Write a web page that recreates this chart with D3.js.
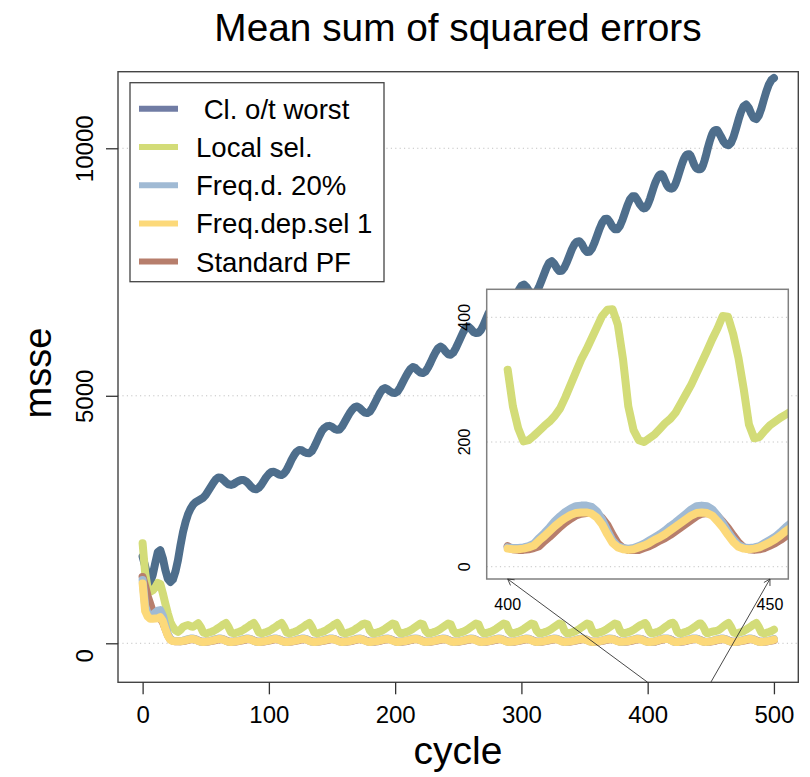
<!DOCTYPE html>
<html>
<head>
<meta charset="utf-8">
<script src="https://cdn.jsdelivr.net/npm/d3@7"></script>
<style>
  html, body { margin: 0; padding: 0; background: #fff; }
  svg { display: block; font-family: "Liberation Sans", Arial, Helvetica, sans-serif; }
</style>
</head>
<body>
<svg id="chart" width="810" height="777"></svg>
<script>
// Sampling grid of the recorded cycles: every 2nd cycle, every cycle across the zoomed window 396-456.
const cycles = d3.range(0, 396, 2).concat(d3.range(396, 457), d3.range(458, 501, 2));

// Mean sum of squared errors per method
const worst = [
  1750, 1560, 1350, 1230, 1380, 1620, 1840, 1880, 1720, 1480,
  1300, 1240, 1290, 1450, 1680, 1980, 2250, 2450, 2610, 2720,
  2800, 2850, 2880, 2910, 2940, 3000, 3080, 3160, 3240, 3310,
  3350, 3345, 3300, 3250, 3210, 3200, 3215, 3250, 3280, 3300,
  3298, 3270, 3220, 3160, 3120, 3110, 3140, 3200, 3280, 3360,
  3420, 3460, 3465, 3440, 3410, 3400, 3430, 3500, 3600, 3710,
  3800, 3870, 3905, 3900, 3865, 3845, 3840, 3880, 3970, 4080,
  4190, 4290, 4350, 4385, 4393, 4370, 4330, 4312, 4320, 4380,
  4470, 4560, 4650, 4720, 4770, 4784, 4750, 4700, 4660, 4650,
  4680, 4760, 4860, 4960, 5060, 5130, 5156, 5130, 5090, 5060,
  5055, 5090, 5170, 5270, 5370, 5460, 5540, 5581, 5560, 5510,
  5470, 5460, 5490, 5570, 5670, 5780, 5880, 5960, 5995, 5960,
  5890, 5840, 5830, 5870, 5960, 6070, 6180, 6290, 6380, 6400,
  6350, 6290, 6269, 6275, 6330, 6430, 6550, 6670, 6760, 6820,
  6830, 6780, 6710, 6670, 6660, 6700, 6790, 6910, 7030, 7140,
  7220, 7247, 7200, 7120, 7070, 7060, 7100, 7200, 7330, 7460,
  7590, 7690, 7719, 7670, 7580, 7520, 7525, 7590, 7700, 7830,
  7960, 8060, 8115, 8124, 8060, 7960, 7905, 7910, 7980, 8100,
  8240, 8380, 8500, 8570, 8577, 8510, 8420, 8365, 8365, 8430,
  8550, 8700, 8850, 8970, 9030, 9030, 8950, 8860,
  8800, 8785, 8790, 8815, 8860, 8920, 8990, 9070, 9150, 9230,
  9300, 9360, 9410, 9450, 9470, 9474, 9445, 9390, 9330, 9270,
  9225, 9200, 9188, 9184, 9195, 9230, 9280, 9350, 9430, 9510,
  9590, 9670, 9740, 9800, 9845, 9870, 9880, 9880, 9850, 9790,
  9720, 9660, 9615, 9590, 9578, 9575, 9580, 9610, 9670, 9750,
  9840, 9940, 10040, 10130, 10210, 10280, 10330, 10360, 10370, 10370,
  10330,
  10240, 10140, 10080, 10061, 10110, 10230, 10400, 10580, 10740, 10850,
  10885, 10820, 10700, 10610, 10590, 10660, 10800, 10980, 11150, 11290,
  11380, 11420
];

const localSel = [
  2020, 1420, 1110, 1040, 1070, 1130, 1220, 1200, 1010, 800,
  600, 430, 330, 260, 230, 270, 330, 355, 370, 345,
  335, 370, 405, 330, 220, 200, 212, 228, 246, 276,
  310, 346, 382, 410, 330, 220, 200, 212, 228, 246,
  276, 310, 346, 382, 410, 330, 220, 200, 212, 228,
  246, 276, 310, 346, 382, 410, 330, 220, 200, 212,
  228, 246, 276, 310, 346, 382, 410, 330, 220, 200,
  212, 228, 246, 276, 310, 346, 382, 410, 330, 220,
  200, 212, 228, 246, 276, 310, 346, 382, 400, 385,
  258, 203, 206, 220, 236, 260, 292, 328, 364, 400,
  385, 258, 203, 206, 220, 236, 260, 292, 328, 364,
  400, 385, 258, 203, 206, 220, 236, 260, 292, 328,
  364, 400, 385, 258, 203, 206, 220, 236, 260, 292,
  328, 364, 400, 385, 258, 203, 206, 220, 236, 260,
  292, 328, 364, 400, 385, 258, 203, 206, 220, 236,
  260, 292, 328, 364, 400, 385, 258, 203, 206, 220,
  236, 260, 292, 328, 364, 400, 385, 258, 203, 206,
  220, 236, 260, 292, 328, 364, 400, 385, 258, 203,
  206, 220, 236, 260, 292, 328, 364, 400, 385, 258,
  203, 206, 220, 236, 260, 292, 328, 364,
  382, 400, 410, 380, 316, 257, 222, 201, 203, 210,
  218, 226, 233, 242, 254, 272, 292, 312, 332, 348,
  366, 384, 402, 412, 413, 388, 332, 257, 219, 203,
  200, 206, 212, 221, 230, 237, 247, 262, 277, 292,
  310, 328, 346, 365, 382, 402, 401, 373, 335, 285,
  228, 206, 208, 218, 227, 233, 239, 244, 249, 256,
  264,
  300, 340, 380, 410, 330, 220, 200, 212, 228, 246,
  276, 310, 346, 382, 410, 330, 220, 200, 212, 228,
  246, 276
];

const freqD20 = [
  1280, 760, 600, 560, 580, 620, 660, 670, 560, 360,
  180, 85, 50, 44, 45, 43, 54, 68, 83, 96,
  97, 81, 52, 33, 30, 35, 44, 54, 68, 83,
  96, 97, 81, 52, 33, 30, 35, 44, 54, 68,
  83, 96, 97, 81, 52, 33, 30, 35, 44, 54,
  68, 83, 96, 97, 81, 52, 33, 30, 35, 44,
  54, 68, 83, 96, 97, 81, 52, 33, 30, 35,
  44, 54, 68, 83, 96, 98, 86, 60, 37, 30,
  33, 42, 51, 65, 78, 93, 98, 86, 60, 37,
  30, 33, 42, 51, 65, 78, 93, 98, 86, 60,
  37, 30, 33, 42, 51, 65, 78, 93, 98, 91,
  67, 40, 30, 32, 39, 48, 61, 75, 90, 98,
  91, 67, 40, 30, 32, 39, 48, 61, 75, 90,
  98, 91, 67, 40, 30, 32, 39, 48, 61, 75,
  90, 98, 91, 67, 40, 30, 32, 39, 48, 61,
  75, 90, 98, 91, 67, 40, 30, 32, 39, 48,
  61, 75, 90, 98, 91, 67, 40, 30, 32, 39,
  48, 61, 75, 90, 98, 91, 67, 40, 30, 32,
  39, 48, 61, 75, 90, 96, 94, 74, 46, 31,
  31, 37, 46, 58, 71, 86, 98, 94,
  74, 60, 46, 37, 31, 30, 30, 31, 33, 37,
  46, 54, 63, 73, 81, 88, 93, 97, 98, 98,
  96, 89, 76, 58, 42, 33, 30, 29, 30, 33,
  37, 42, 47, 52, 58, 65, 71, 78, 85, 92,
  97, 98, 97, 92, 82, 70, 56, 44, 35, 31,
  30, 31, 33, 38, 43, 48, 55, 63, 70, 77,
  84,
  96, 97, 81, 52, 33, 30, 35, 44, 54, 68,
  83, 96, 97, 81, 52, 33, 30, 35, 44, 54,
  68, 83
];

const freqDepSel1 = [
  1210, 650, 540, 495, 495, 500, 505, 530, 450, 290,
  150, 70, 45, 40, 42, 40, 49, 61, 74, 85,
  86, 72, 47, 31, 28, 32, 40, 49, 61, 74,
  85, 86, 72, 47, 31, 28, 32, 40, 49, 61,
  74, 85, 86, 72, 47, 31, 28, 32, 40, 49,
  61, 74, 85, 86, 72, 47, 31, 28, 32, 40,
  49, 61, 74, 85, 86, 72, 47, 31, 28, 32,
  40, 49, 61, 74, 85, 87, 77, 54, 34, 28,
  31, 38, 46, 58, 70, 83, 87, 77, 54, 34,
  28, 31, 38, 46, 58, 70, 83, 87, 77, 54,
  34, 28, 31, 38, 46, 58, 70, 83, 87, 81,
  60, 37, 28, 30, 36, 44, 55, 67, 80, 87,
  81, 60, 37, 28, 30, 36, 44, 55, 67, 80,
  87, 81, 60, 37, 28, 30, 36, 44, 55, 67,
  80, 87, 81, 60, 37, 28, 30, 36, 44, 55,
  67, 80, 87, 81, 60, 37, 28, 30, 36, 44,
  55, 67, 80, 87, 81, 60, 37, 28, 30, 36,
  44, 55, 67, 80, 87, 81, 60, 37, 28, 30,
  36, 44, 55, 67, 80, 85, 84, 66, 42, 29,
  29, 34, 42, 52, 64, 77, 87, 84,
  66, 54, 42, 34, 29, 28, 28, 29, 31, 34,
  42, 49, 57, 65, 72, 78, 83, 86, 87, 87,
  85, 79, 68, 52, 38, 31, 28, 27, 28, 31,
  34, 38, 43, 47, 52, 58, 64, 70, 76, 82,
  86, 87, 86, 82, 73, 63, 51, 40, 32, 29,
  28, 29, 31, 35, 39, 44, 50, 57, 63, 69,
  75,
  85, 86, 72, 47, 31, 28, 32, 40, 49, 61,
  74, 85, 86, 72, 47, 31, 28, 32, 40, 49,
  61, 74
];

const standardPF = [
  1340, 1150, 950, 800, 640, 560, 520, 510, 430, 300,
  165, 80, 50, 42, 40, 40, 44, 55, 67, 79,
  85, 78, 58, 38, 29, 29, 35, 43, 54, 66,
  78, 85, 78, 58, 38, 29, 29, 35, 43, 54,
  66, 78, 85, 78, 58, 38, 29, 29, 35, 43,
  54, 66, 78, 85, 78, 58, 38, 29, 29, 35,
  43, 54, 66, 78, 85, 78, 58, 38, 29, 29,
  35, 43, 54, 66, 78, 85, 81, 65, 43, 30,
  29, 33, 41, 51, 63, 75, 84, 81, 65, 43,
  30, 29, 33, 41, 51, 63, 75, 84, 81, 65,
  43, 30, 29, 33, 41, 51, 63, 75, 84, 83,
  69, 47, 31, 29, 32, 39, 48, 60, 72, 82,
  83, 69, 47, 31, 29, 32, 39, 48, 60, 72,
  82, 83, 69, 47, 31, 29, 32, 39, 48, 60,
  72, 82, 83, 69, 47, 31, 29, 32, 39, 48,
  60, 72, 82, 83, 69, 47, 31, 29, 32, 39,
  48, 60, 72, 82, 83, 69, 47, 31, 29, 32,
  39, 48, 60, 72, 82, 83, 69, 47, 31, 29,
  32, 39, 48, 60, 72, 81, 83, 74, 53, 34,
  29, 30, 37, 46, 57, 69, 81, 84,
  76, 65, 53, 41, 33, 28, 27, 27, 28, 30,
  33, 41, 48, 56, 64, 71, 77, 82, 85, 86,
  86, 84, 78, 67, 51, 37, 30, 27, 27, 27,
  30, 33, 37, 42, 46, 51, 57, 63, 69, 75,
  81, 85, 86, 85, 81, 72, 62, 50, 39, 31,
  28, 27, 28, 30, 34, 38, 43, 49, 56, 62,
  68,
  79, 85, 78, 58, 38, 29, 29, 35, 43, 54,
  66, 78, 85, 78, 58, 38, 29, 29, 35, 43,
  54, 66
];

const seriesNames = [" Cl. o/t worst", "Local sel.", "Freq.d. 20%", "Freq.dep.sel 1", "Standard PF"];
const seriesValues = [worst, localSel, freqD20, freqDepSel1, standardPF];
const lineColors = ["#4e6e8c", "#d3dc78", "#a0bad4", "#fcd97a", "#b77e6c"];
const legendColors = ["#707ca4", "#d3dc78", "#a0bad4", "#fcd97a", "#b77e6c"];
const drawOrder = [0, 1, 4, 2, 3];

const xTicks = [0, 100, 200, 300, 400, 500];
const yTicks = [0, 5000, 10000];
const insetXTicks = [400, 450];
const insetYTicks = [0, 200, 400];
const insetStart = 400;

const svg = d3.select("#chart");

// ---------- main panel ----------
const box = { left: 118, right: 798.3, top: 71.7, bottom: 682.3 };
const x = d3.scaleLinear().domain([-19.5, 519.3]).range([box.left, box.right]);
const y = d3.scaleLinear().domain([-788, 11547]).range([box.bottom, box.top]);

const defs = svg.append("defs");
defs.append("clipPath").attr("id", "clip-main").append("rect")
  .attr("x", box.left).attr("y", box.top)
  .attr("width", box.right - box.left).attr("height", box.bottom - box.top);

// dotted reference lines
svg.append("g").selectAll("line").data(yTicks).join("line")
  .attr("x1", box.left).attr("x2", box.right)
  .attr("y1", d => y(d)).attr("y2", d => y(d))
  .attr("stroke", "#c4c4c4").attr("stroke-width", 1)
  .attr("stroke-dasharray", "1.2,3.2");

const rows = cycles.map((c, i) => ({ c, i }));
const lineMain = vals => d3.line()
  .x(d => x(d.c)).y(d => y(vals[d.i]))
  .curve(d3.curveLinear);

const mainLines = svg.append("g").attr("clip-path", "url(#clip-main)");
drawOrder.forEach(s => {
  mainLines.append("path")
    .datum(rows)
    .attr("d", lineMain(seriesValues[s]))
    .attr("fill", "none")
    .attr("stroke", lineColors[s])
    .attr("stroke-width", 8)
    .attr("stroke-linecap", "round")
    .attr("stroke-linejoin", "round");
});

// plot frame
svg.append("rect")
  .attr("x", box.left).attr("y", box.top)
  .attr("width", box.right - box.left).attr("height", box.bottom - box.top)
  .attr("fill", "none").attr("stroke", "#444").attr("stroke-width", 1.4);

// x axis
const xAxisG = svg.append("g")
  .attr("transform", `translate(0,${box.bottom})`)
  .call(d3.axisBottom(x).tickValues(xTicks).tickSize(12).tickPadding(12).tickFormat(d3.format("d")));
xAxisG.attr("font-family", null).attr("font-size", null);
xAxisG.select(".domain").remove();
xAxisG.selectAll(".tick line").attr("stroke", "#333").attr("stroke-width", 1.3);
xAxisG.selectAll(".tick text").attr("font-size", 24).attr("fill", "#000");

// y axis with labels turned parallel to the axis; the bottom label sits just under its tick
const yAxisG = svg.append("g")
  .attr("transform", `translate(${box.left},0)`)
  .call(d3.axisLeft(y).tickValues(yTicks).tickSize(12).tickFormat(d3.format("d")));
yAxisG.attr("font-family", null).attr("font-size", null);
yAxisG.select(".domain").remove();
yAxisG.selectAll(".tick line").attr("stroke", "#333").attr("stroke-width", 1.3);
yAxisG.selectAll(".tick text")
  .attr("x", null).attr("dy", null)
  .attr("transform", d => `translate(-25,${d === 0 ? 12 : 0}) rotate(-90)`)
  .attr("text-anchor", "middle")
  .attr("font-size", 24).attr("fill", "#000");

// titles
svg.append("text").attr("x", 458).attr("y", 41)
  .attr("text-anchor", "middle").attr("font-size", 38.8).attr("fill", "#000")
  .text("Mean sum of squared errors");
svg.append("text").attr("x", 458).attr("y", 764)
  .attr("text-anchor", "middle").attr("font-size", 39).attr("fill", "#000")
  .text("cycle");
svg.append("text")
  .attr("transform", `translate(51,${(box.top + box.bottom) / 2 - 4}) rotate(-90)`)
  .attr("text-anchor", "middle").attr("font-size", 38).attr("fill", "#000")
  .text("msse");

// ---------- legend ----------
const legend = svg.append("g");
legend.append("rect")
  .attr("x", 130).attr("y", 82.7).attr("width", 254).attr("height", 199)
  .attr("fill", "#fff").attr("stroke", "#444").attr("stroke-width", 1.3);
const legendRows = legend.selectAll("g.entry").data(seriesNames).join("g")
  .attr("class", "entry")
  .attr("transform", (d, i) => `translate(0,${108.8 + i * 38.2})`);
legendRows.append("line")
  .attr("x1", 139).attr("x2", 178).attr("y1", 0).attr("y2", 0)
  .attr("stroke", (d, i) => legendColors[i]).attr("stroke-width", 6);
legendRows.append("text")
  .attr("x", 196).attr("y", 10)
  .attr("font-size", 27.6).attr("fill", "#000")
  .style("white-space", "pre")
  .text(d => d);

// ---------- inset: cycles 400-450 ----------
const ib = { left: 486.7, right: 788.3, top: 289.3, bottom: 579 };
const ix = d3.scaleLinear().domain([396, 453.5]).range([ib.left, ib.right]);
const iy = d3.scaleLinear().domain([-19.7, 444.9]).range([ib.bottom, ib.top]);

defs.append("clipPath").attr("id", "clip-inset").append("rect")
  .attr("x", ib.left).attr("y", ib.top)
  .attr("width", ib.right - ib.left).attr("height", ib.bottom - ib.top);

svg.append("rect")
  .attr("x", ib.left).attr("y", ib.top)
  .attr("width", ib.right - ib.left).attr("height", ib.bottom - ib.top)
  .attr("fill", "#fff");

svg.append("g").selectAll("line").data(insetYTicks).join("line")
  .attr("x1", ib.left).attr("x2", ib.right)
  .attr("y1", d => iy(d)).attr("y2", d => iy(d))
  .attr("stroke", "#c4c4c4").attr("stroke-width", 1)
  .attr("stroke-dasharray", "1.2,3.2");

const insetRows = rows.filter(d => d.c >= insetStart);
const lineInset = vals => d3.line()
  .x(d => ix(d.c)).y(d => iy(vals[d.i]));
const insetLines = svg.append("g").attr("clip-path", "url(#clip-inset)");
drawOrder.forEach(s => {
  insetLines.append("path")
    .datum(insetRows)
    .attr("d", lineInset(seriesValues[s]))
    .attr("fill", "none")
    .attr("stroke", lineColors[s])
    .attr("stroke-width", 8)
    .attr("stroke-linecap", "round")
    .attr("stroke-linejoin", "round");
});

svg.append("rect")
  .attr("x", ib.left).attr("y", ib.top)
  .attr("width", ib.right - ib.left).attr("height", ib.bottom - ib.top)
  .attr("fill", "none").attr("stroke", "#808080").attr("stroke-width", 1.5);

svg.append("g").selectAll("text").data(insetXTicks).join("text")
  .attr("x", d => ix(d)).attr("y", 610)
  .attr("text-anchor", "middle").attr("font-size", 16).attr("fill", "#000")
  .text(d => d);
svg.append("g").selectAll("text").data(insetYTicks).join("text")
  .attr("transform", d => `translate(470,${iy(d)}) rotate(-90)`)
  .attr("text-anchor", "middle").attr("font-size", 16).attr("fill", "#000")
  .text(d => d);

// arrows from the main cycle axis to the zoomed window
const arrows = svg.append("g").attr("stroke", "#333").attr("stroke-width", 0.9).attr("fill", "none");
insetXTicks.forEach(t => {
  const x0 = x(t), y0 = box.bottom, x1 = ix(t), y1 = ib.bottom;
  arrows.append("line").attr("x1", x0).attr("y1", y0).attr("x2", x1).attr("y2", y1);
  const ang = Math.atan2(y1 - y0, x1 - x0);
  const len = 7, spread = Math.PI / 6;
  [-spread, spread].forEach(a => {
    arrows.append("line")
      .attr("x1", x1).attr("y1", y1)
      .attr("x2", x1 - len * Math.cos(ang + a))
      .attr("y2", y1 - len * Math.sin(ang + a));
  });
});
</script>
</body>
</html>
